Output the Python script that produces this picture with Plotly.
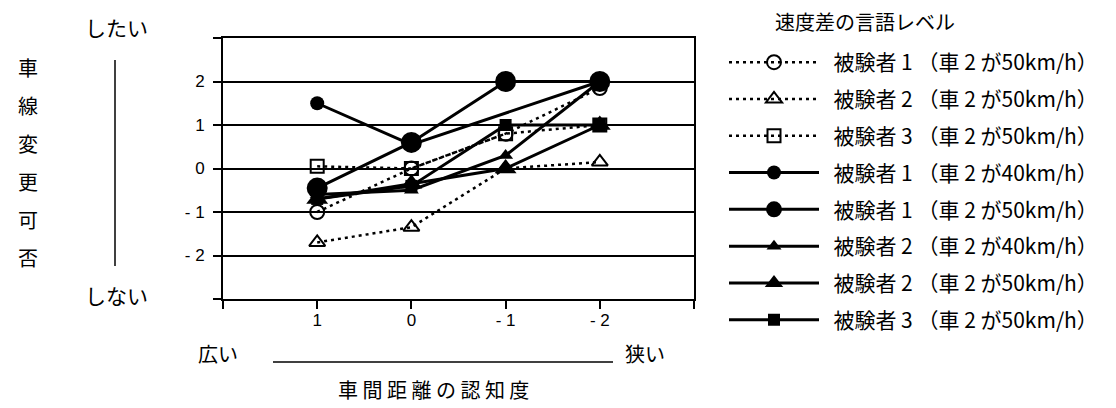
import plotly.graph_objects as go

# ---- data ----
x_labels = ["", "1", "0", "- 1", "- 2", ""]
x_pos = [0, 1, 2, 3]
x_tickpos = [-1, 0, 1, 2, 3, 4]
y_tickvals = [-3, -2, -1, 0, 1, 2, 3]
y_ticktext = ["", "- 2", "- 1", "0", "1", "2", ""]

s1_50_dot = [-1.0, 0.0, 0.8, 1.85]     # 被験者1 (車2が50km/h) dotted, open circle
s2_50_dot = [-1.7, -1.35, 0.0, 0.15]   # 被験者2 dotted, open triangle
s3_50_dot = [0.05, 0.0, 0.8, 1.0]      # 被験者3 dotted, open square
s1_40 = [1.5, 0.55, None, 2.0]         # 被験者1 (40) solid, small circle
s1_50 = [-0.45, 0.6, 2.0, 2.0]         # 被験者1 (50) solid, big circle
s2_40 = [-0.6, -0.5, 0.3, 2.0]         # 被験者2 (40) solid, small triangle
s2_50 = [-0.7, -0.35, 0.0, 1.0]        # 被験者2 (50) solid, big triangle
s3_50 = [-0.7, -0.4, 1.0, 1.0]         # 被験者3 (50) solid, filled square

names = [
    "被験者 1 （車 2 が50km/h）",
    "被験者 2 （車 2 が50km/h）",
    "被験者 3 （車 2 が50km/h）",
    "被験者 1 （車 2 が40km/h）",
    "被験者 1 （車 2 が50km/h）",
    "被験者 2 （車 2 が40km/h）",
    "被験者 2 （車 2 が50km/h）",
    "被験者 3 （車 2 が50km/h）",
]
series = [s1_50_dot, s2_50_dot, s3_50_dot, s1_40, s1_50, s2_40, s2_50, s3_50]
styles = [
    dict(dash="3px,4px", width=2.5, symbol="circle-open", size=14),
    dict(dash="3px,4px", width=2.5, symbol="triangle-up-open", size=14),
    dict(dash="3px,4px", width=2.5, symbol="square-open", size=13),
    dict(dash="solid", width=3, symbol="circle", size=14),
    dict(dash="solid", width=3, symbol="circle", size=21),
    dict(dash="solid", width=3, symbol="triangle-up", size=13),
    dict(dash="solid", width=3, symbol="triangle-up", size=19),
    dict(dash="solid", width=3, symbol="square", size=12),
]

JP = "Noto Sans CJK JP"
SANS = "Liberation Sans"

fig = go.Figure()
for i, (name, ys, st) in enumerate(zip(names, series, styles)):
    open_marker = st["symbol"].endswith("open")
    fig.add_trace(go.Scatter(
        x=x_pos, y=ys, name="  " + name, mode="lines+markers",
        connectgaps=True, legendgroup=f"g{i}",
        line=dict(color="black", width=st["width"], dash=st["dash"]),
        marker=dict(symbol=st["symbol"], size=st["size"], color="black",
                    line=dict(color="black", width=2 if open_marker else 0)),
    ))

# plot domain in pixels: x 215..686, y 30..291
L, R, T, B = 215, 686, 30, 291
W, H = 1116, 408
DY = 8  # text baseline compensation for annotations


def px(xp):
    return (xp - L) / (R - L)


def py(yp):
    return (B - yp) / (B - T)


def pyt(yp):
    return py(yp - DY)


fig.update_layout(
    width=W, height=H,
    margin=dict(l=L, r=W - R, t=T, b=H - B, pad=0),
    paper_bgcolor="white", plot_bgcolor="white",
    showlegend=True,
    legend=dict(
        x=px(716), y=py(34), xanchor="left", yanchor="top",
        font=dict(family=JP, size=21, color="black"),
        itemwidth=90, tracegroupgap=6.5, maxheight=380,
        bgcolor="rgba(0,0,0,0)",
    ),
    font=dict(family=SANS, color="black"),
)

fig.update_xaxes(
    range=[-1, 4], tickvals=x_tickpos, ticktext=x_labels,
    showline=True, linecolor="black", linewidth=2, mirror=True,
    ticks="outside", ticklen=8, tickwidth=1.5, tickcolor="black",
    showgrid=False, zeroline=False,
    tickfont=dict(family=SANS, size=17, color="black"),
    ticklabelstandoff=-3,
)
fig.update_yaxes(
    range=[-3, 3], tickvals=y_tickvals, ticktext=y_ticktext,
    showline=True, linecolor="black", linewidth=2, mirror=True,
    ticks="outside", ticklen=8, tickwidth=1.5, tickcolor="black",
    showgrid=True, gridcolor="black", gridwidth=1.5,
    zeroline=True, zerolinecolor="black", zerolinewidth=1.5,
    tickfont=dict(family=SANS, size=17, color="black"),
    ticklabelstandoff=5,
)

ann = []
# legend title
ann.append(dict(x=px(765), y=pyt(22), xref="paper", yref="paper", text="速度差の言語レベル",
                showarrow=False, xanchor="left", yanchor="middle",
                font=dict(family=JP, size=20, color="black")))
# left labels
ann.append(dict(x=px(108), y=pyt(27), xref="paper", yref="paper", text="したい",
                showarrow=False, xanchor="center", yanchor="middle",
                font=dict(family=JP, size=21, color="black")))
ann.append(dict(x=px(108), y=pyt(295), xref="paper", yref="paper", text="しない",
                showarrow=False, xanchor="center", yanchor="middle",
                font=dict(family=JP, size=21, color="black")))
for i, ch in enumerate("車線変更可否"):
    ann.append(dict(x=px(20), y=pyt(68 + i * 37.8), xref="paper", yref="paper", text=ch,
                    showarrow=False, xanchor="center", yanchor="middle",
                    font=dict(family=JP, size=20, color="black")))
# bottom labels
ann.append(dict(x=px(210), y=pyt(353), xref="paper", yref="paper", text="広い",
                showarrow=False, xanchor="center", yanchor="middle",
                font=dict(family=JP, size=20, color="black")))
ann.append(dict(x=px(637), y=pyt(353), xref="paper", yref="paper", text="狭い",
                showarrow=False, xanchor="center", yanchor="middle",
                font=dict(family=JP, size=20, color="black")))
ann.append(dict(x=px(425), y=pyt(389), xref="paper", yref="paper",
                text="車 間 距 離 の 認 知 度",
                showarrow=False, xanchor="center", yanchor="middle",
                font=dict(family=JP, size=20, color="black")))
fig.update_layout(annotations=ann)

fig.add_shape(type="line", xref="paper", yref="paper",
              x0=px(107), x1=px(107), y0=py(52), y1=py(258),
              line=dict(color="black", width=1.5))
fig.add_shape(type="line", xref="paper", yref="paper",
              x0=px(265), x1=px(605), y0=py(354), y1=py(354),
              line=dict(color="black", width=1.5))

fig.write_html("out.html")
